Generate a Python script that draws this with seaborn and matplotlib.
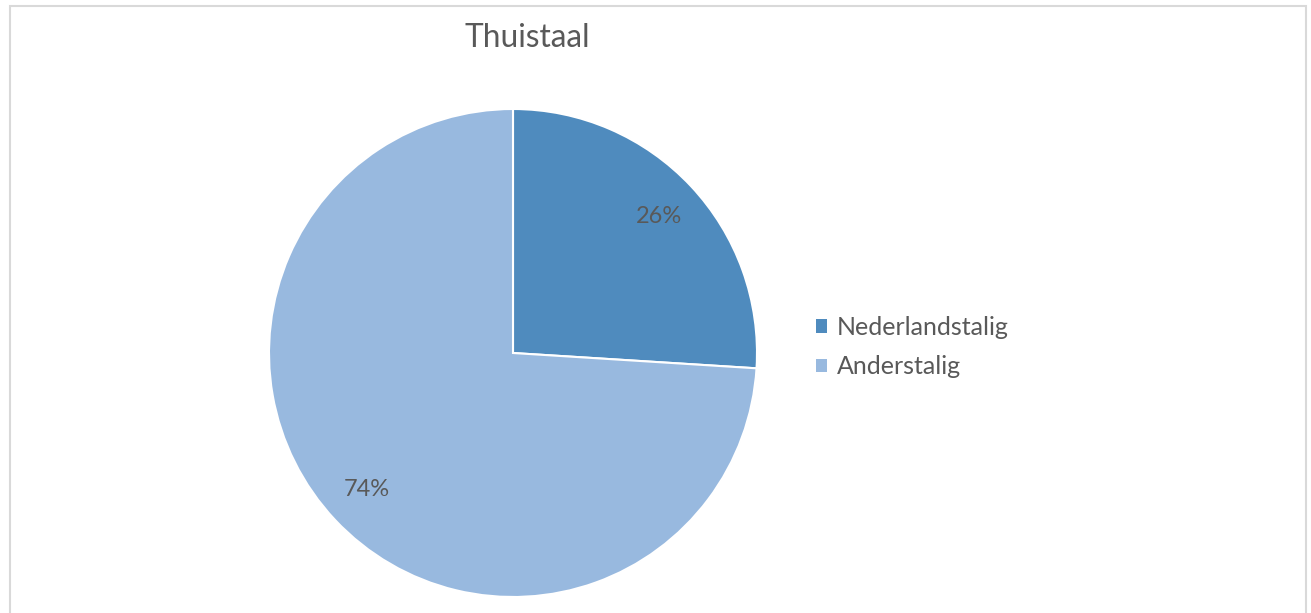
import matplotlib
matplotlib.use("Agg")
import matplotlib.pyplot as plt
import seaborn as sns
from matplotlib.patches import Patch, Rectangle

# Data
labels = ["Nederlandstalig", "Anderstalig"]
values = [26, 74]
colors = ["#4F8BBE", "#98B9DF"]

sns.set_theme(style="white")
plt.rcParams['font.family'] = ['Lato', 'DejaVu Sans']
text_color = "#595959"

fig = plt.figure(figsize=(13.11, 6.13), dpi=100)

# pie axes placed by pixel box: centre (513, 353), radius 244
W, H = 1311, 613
ax = fig.add_axes([269 / W, (H - 597) / H, 488 / W, 488 / H])
wedges, texts, autotexts = ax.pie(
    values,
    colors=colors,
    startangle=90,
    counterclock=False,
    autopct="%1.0f%%",
    pctdistance=0.82,
    radius=1.0,
    wedgeprops={"edgecolor": "white", "linewidth": 1.5},
    textprops={"fontsize": 17, "color": text_color},
)
ax.set_xlim(-1, 1)
ax.set_ylim(-1, 1)
ax.set_aspect("equal")
ax.axis("off")

fig.text(527 / W, 1 - 38 / H, "Thuistaal", ha="center", va="center",
         fontsize=22.8, color=text_color)

handles = [Patch(facecolor=c, edgecolor="none") for c in colors]
fig.legend(handles, labels, loc="center left",
           bbox_to_anchor=(793 / W, 1 - 347 / H), frameon=False,
           fontsize=18, labelcolor=text_color,
           handlelength=0.45, handleheight=0.45, handletextpad=0.4,
           labelspacing=0.65)

# chart border
fig.patches.append(Rectangle((9.5 / W, -0.1), (1305.5 - 9.5) / W, 1.1 - 6.5 / H,
                             transform=fig.transFigure, fill=False,
                             edgecolor="#D9D9D9", linewidth=1.5))

fig.savefig("out.png", dpi=100)
